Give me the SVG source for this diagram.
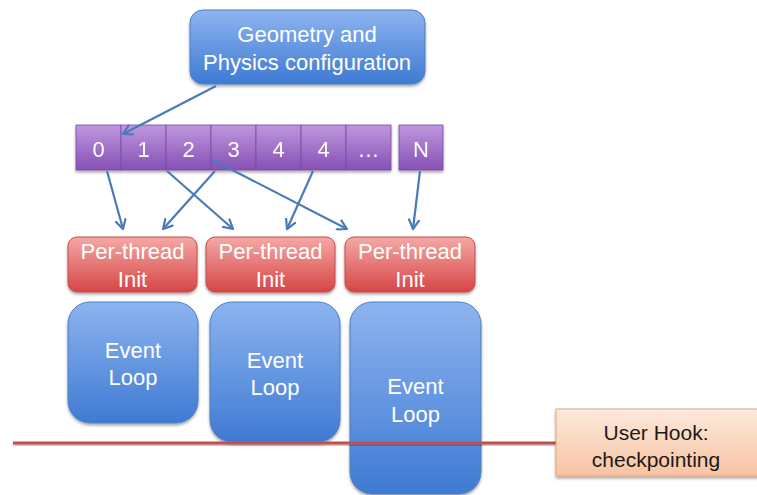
<svg xmlns="http://www.w3.org/2000/svg" width="757" height="495" viewBox="0 0 757 495">
<defs>
  <linearGradient id="gBlue" x1="0" y1="0" x2="0" y2="1">
    <stop offset="0" stop-color="#8db4f0"/>
    <stop offset="1" stop-color="#3f7ad3"/>
  </linearGradient>
  <linearGradient id="gRed" x1="0" y1="0" x2="0" y2="1">
    <stop offset="0" stop-color="#f5a9a6"/>
    <stop offset="1" stop-color="#d64545"/>
  </linearGradient>
  <linearGradient id="gPurple" x1="0" y1="0" x2="0" y2="1">
    <stop offset="0" stop-color="#bf97de"/>
    <stop offset="1" stop-color="#8650b5"/>
  </linearGradient>
  <linearGradient id="gPeach" x1="0" y1="0" x2="0" y2="1">
    <stop offset="0" stop-color="#fdeadc"/>
    <stop offset="1" stop-color="#f8c3a2"/>
  </linearGradient>
  <filter id="sh" x="-10%" y="-10%" width="125%" height="130%">
    <feGaussianBlur in="SourceAlpha" stdDeviation="1.5"/>
    <feOffset dx="0" dy="2" result="b"/>
    <feComponentTransfer><feFuncA type="linear" slope="0.35"/></feComponentTransfer>
    <feMerge><feMergeNode/><feMergeNode in="SourceGraphic"/></feMerge>
  </filter>
  <marker id="arr" viewBox="0 0 12 12" refX="10" refY="6" markerWidth="12" markerHeight="12" markerUnits="userSpaceOnUse" orient="auto">
    <path d="M1,1 L10,6 L1,11" fill="none" stroke="#4a7bb9" stroke-width="2.2" stroke-linecap="round" stroke-linejoin="round"/>
  </marker>
</defs>
<style>
  text { font-family: "Liberation Sans", Arial, sans-serif; text-anchor: middle; }
  .w { fill: #ffffff; font-size: 22px; }
  .k { fill: #1a1a1a; font-size: 21px; }
  .blue { fill: url(#gBlue); stroke: #4c7fc4; stroke-width: 1; }
  .red { fill: url(#gRed); stroke: #c44a4a; stroke-width: 1; }
  .cell { fill: url(#gPurple); stroke: #7b4aa6; stroke-width: 0.8; }
  .peach { fill: url(#gPeach); stroke: #e5a579; stroke-width: 1; }
  .conn { stroke: #4a7bb9; stroke-width: 2.2; fill: none; marker-end: url(#arr); }
</style>

<g id="geometry">
  <rect x="190" y="10" width="235" height="74" rx="13" class="blue" filter="url(#sh)"/>
  <text class="w" x="307" y="42">Geometry and</text>
  <text class="w" x="307" y="70">Physics configuration</text>
</g>

<g id="cells" filter="url(#sh)">
  <g id="cell0"><rect x="76" y="125" width="45" height="45" class="cell"/><text class="w" x="98.5" y="157">0</text></g>
  <g id="cell1"><rect x="121" y="125" width="45" height="45" class="cell"/><text class="w" x="143.5" y="157">1</text></g>
  <g id="cell2"><rect x="166" y="125" width="45" height="45" class="cell"/><text class="w" x="188.5" y="157">2</text></g>
  <g id="cell3"><rect x="211" y="125" width="45" height="45" class="cell"/><text class="w" x="233.5" y="157">3</text></g>
  <g id="cell4a"><rect x="256" y="125" width="45" height="45" class="cell"/><text class="w" x="278.5" y="157">4</text></g>
  <g id="cell4b"><rect x="301" y="125" width="45" height="45" class="cell"/><text class="w" x="323.5" y="157">4</text></g>
  <g id="cellDots"><rect x="346" y="125" width="45" height="45" class="cell"/><text class="w" x="368.5" y="157">…</text></g>
  <g id="cellN"><rect x="399" y="125" width="44" height="45" class="cell"/><text class="w" x="421" y="157">N</text></g>
</g>

<g id="init1">
  <rect x="68" y="237" width="129" height="55" rx="9" class="red" filter="url(#sh)"/>
  <text class="w" x="132.5" y="259">Per-thread</text>
  <text class="w" x="132.5" y="287">Init</text>
</g>
<g id="init2">
  <rect x="206" y="237" width="129" height="55" rx="9" class="red" filter="url(#sh)"/>
  <text class="w" x="270.5" y="259">Per-thread</text>
  <text class="w" x="270.5" y="287">Init</text>
</g>
<g id="init3">
  <rect x="345" y="237" width="130" height="55" rx="9" class="red" filter="url(#sh)"/>
  <text class="w" x="410" y="259">Per-thread</text>
  <text class="w" x="410" y="287">Init</text>
</g>

<g id="loop1">
  <rect x="68" y="302" width="130" height="121" rx="22" class="blue" filter="url(#sh)"/>
  <text class="w" x="133" y="358">Event</text>
  <text class="w" x="133" y="385">Loop</text>
</g>
<g id="loop2">
  <rect x="210" y="302" width="130" height="140" rx="22" class="blue" filter="url(#sh)"/>
  <text class="w" x="275" y="368">Event</text>
  <text class="w" x="275" y="395">Loop</text>
</g>
<g id="loop3">
  <rect x="350" y="302" width="131" height="192" rx="22" class="blue" filter="url(#sh)"/>
  <text class="w" x="415.5" y="394">Event</text>
  <text class="w" x="415.5" y="422">Loop</text>
</g>

<g id="connectors">
  <line class="conn" x1="216" y1="86" x2="123" y2="134"/>
  <line class="conn" x1="107" y1="171" x2="123" y2="229"/>
  <line class="conn" x1="215" y1="171" x2="163" y2="229"/>
  <line class="conn" x1="167" y1="171" x2="233" y2="229"/>
  <line class="conn" x1="313" y1="171" x2="287" y2="229"/>
  <line class="conn" x1="211" y1="159" x2="347" y2="229"/>
  <line class="conn" x1="420" y1="171" x2="413" y2="229"/>
  <rect x="13" y="441.5" width="544" height="3" fill="#c0504d" filter="url(#sh)"/>
</g>

<g id="userhook">
  <rect x="556" y="409" width="205" height="67" class="peach" filter="url(#sh)"/>
  <text class="k" x="656" y="440">User Hook:</text>
  <text class="k" x="656" y="467">checkpointing</text>
</g>
</svg>
